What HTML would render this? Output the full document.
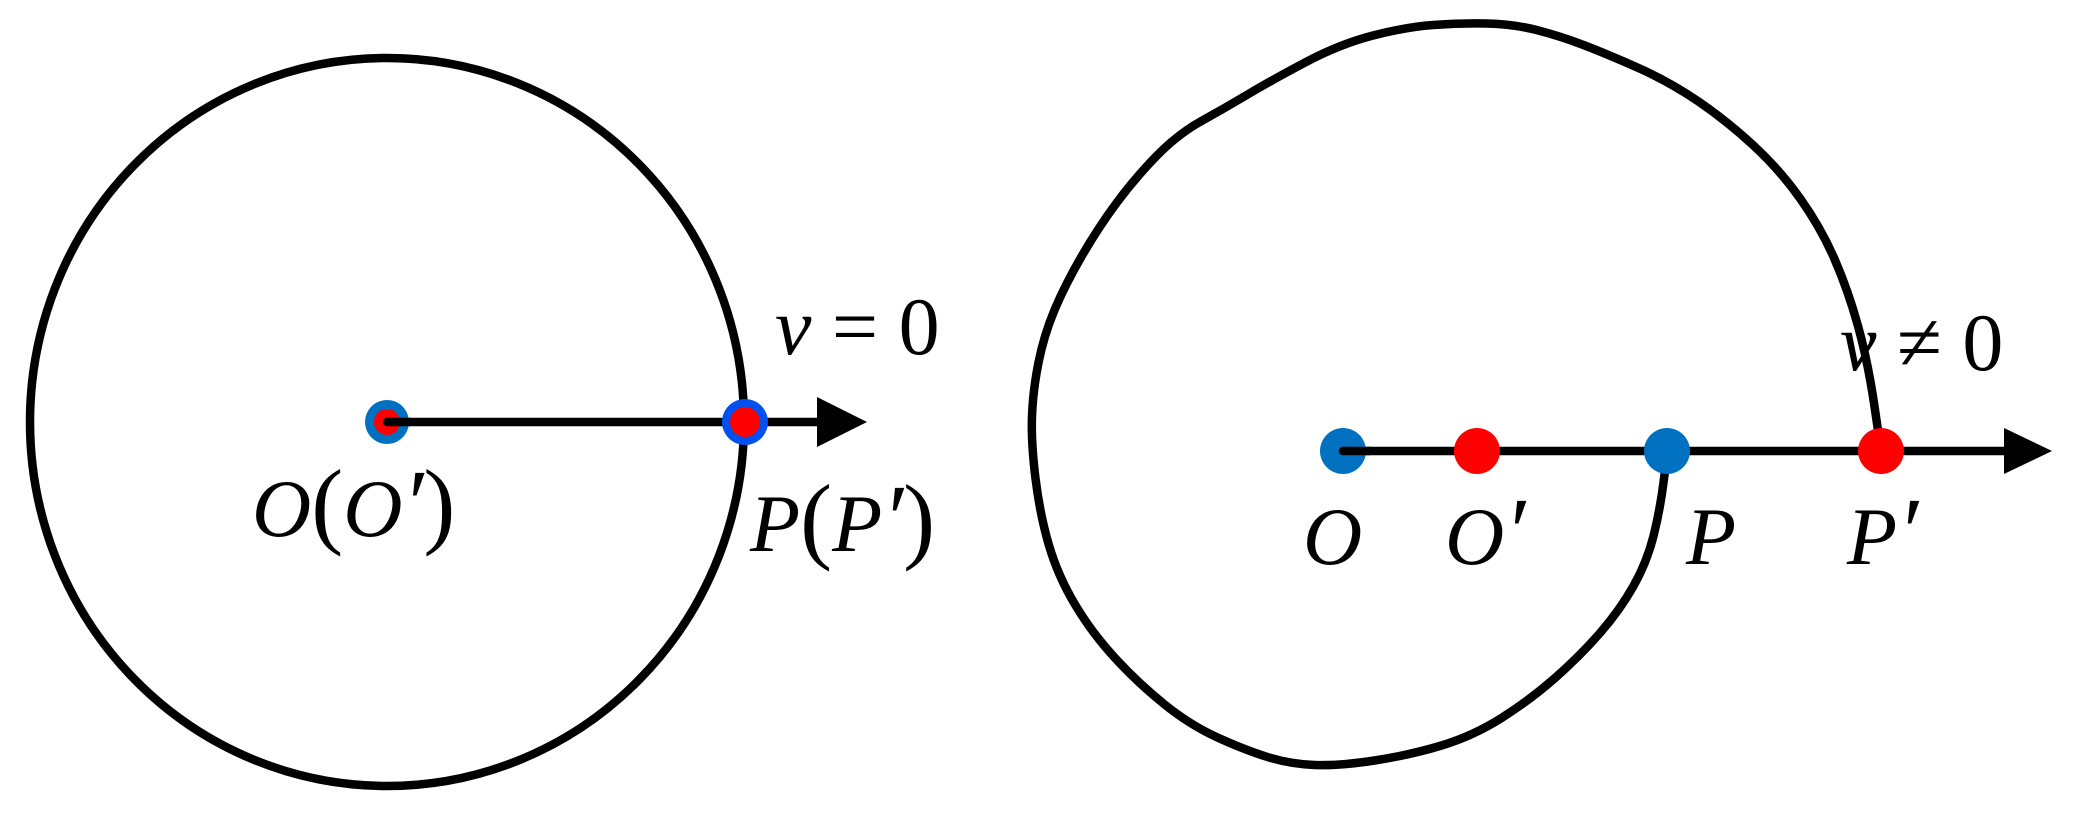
<!DOCTYPE html>
<html><head><meta charset="utf-8"><style>html,body{margin:0;padding:0;background:#fff}svg{display:block}</style></head>
<body>
<svg width="2100" height="816" viewBox="0 0 2100 816" xmlns="http://www.w3.org/2000/svg">
<g fill="none" stroke="#000" stroke-width="8.5" stroke-linejoin="round" stroke-linecap="round">
<ellipse cx="387" cy="422" rx="357" ry="364"/>
<line x1="387" y1="422" x2="820" y2="422"/>
<path d="M1881,451 L1874.5,406.5 Q1868,362 1858,326 Q1848,290 1834.5,259 Q1821,228 1800.5,199 Q1780,170 1753.5,145.5 Q1727,121 1698.5,101.5 Q1670,82 1638.5,68 Q1607,54 1583.5,45 Q1560,36 1536.5,30 Q1513,24 1486.5,23.5 Q1460,23 1433,25 Q1406,27 1373,35.5 Q1340,44 1306,62 Q1272,80 1248.5,94 Q1225,108 1201.5,121 Q1178,134 1156.5,156 Q1135,178 1116.5,203 Q1098,228 1081.5,256.5 Q1065,285 1054.5,310 Q1044,335 1038.5,362.5 Q1033,390 1032,416 Q1031,442 1035.5,478.5 Q1040,515 1049,545.5 Q1058,576 1075,604.5 Q1092,633 1115,658 Q1138,683 1164,704 Q1190,725 1217.5,737.5 Q1245,750 1267.5,757 Q1290,764 1314.5,765 Q1339,766 1374.5,760.5 Q1410,755 1441.5,745.5 Q1473,736 1501.5,718 Q1530,700 1555,678 Q1580,656 1600,633 Q1620,610 1633.5,586 Q1647,562 1653.5,536 Q1660,510 1663.5,482.5 L1667,455"/>
<line x1="1343" y1="451" x2="2010" y2="451"/>
</g>
<polygon points="817,397 867,422 817,447" fill="#000"/>
<polygon points="2004,428 2052,451 2004,474" fill="#000"/>
<circle cx="387" cy="422" r="22" fill="#0070C0"/>
<circle cx="387" cy="422" r="13" fill="#f00"/>
<line x1="387" y1="422" x2="410" y2="422" stroke="#000" stroke-width="8.5" stroke-linecap="round"/>
<circle cx="745" cy="422" r="23" fill="#0050F0"/>
<circle cx="745" cy="422" r="15" fill="#f00"/>
<circle cx="1343" cy="451" r="23" fill="#0070C0"/>
<line x1="1343" y1="451" x2="1370" y2="451" stroke="#000" stroke-width="8.5" stroke-linecap="round"/>
<circle cx="1477" cy="451" r="23" fill="#f00"/>
<circle cx="1667" cy="451" r="23" fill="#0070C0"/>
<circle cx="1881" cy="451" r="23" fill="#f00"/>
<g font-family="Liberation Serif, serif" font-size="82" fill="#000">
<text x="775" y="354"><tspan font-style="italic">v</tspan> = 0</text>
<text x="252" y="536"><tspan font-style="italic">O</tspan><tspan font-size="96">(</tspan><tspan font-style="italic">O</tspan><tspan font-size="96" font-style="italic">′</tspan><tspan font-size="96">)</tspan></text>
<text x="750" y="551"><tspan font-style="italic">P</tspan><tspan font-size="96">(</tspan><tspan font-style="italic">P</tspan><tspan font-size="96" font-style="italic">′</tspan><tspan font-size="96">)</tspan></text>
<text x="1840" y="370"><tspan font-style="italic">v</tspan> ≠ 0</text>
<text x="1303" y="564" font-style="italic">O</text>
<text x="1445" y="564" font-style="italic">O<tspan font-size="96">′</tspan></text>
<text x="1686" y="564" font-style="italic">P</text>
<text x="1847" y="564" font-style="italic">P<tspan font-size="96">′</tspan></text>
</g>
</svg>
</body></html>
